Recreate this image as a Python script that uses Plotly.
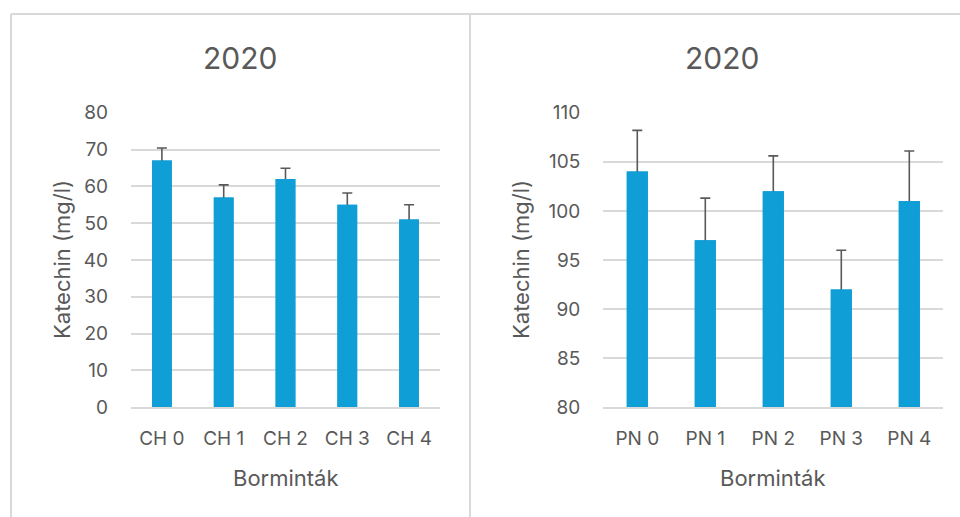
import plotly.graph_objects as go

# ---- data ----
ch_labels = ["CH 0", "CH 1", "CH 2", "CH 3", "CH 4"]
ch_values = [67, 57, 62, 55, 51]
ch_errors = [3.4, 3.4, 2.9, 3.2, 4.0]

pn_labels = ["PN 0", "PN 1", "PN 2", "PN 3", "PN 4"]
pn_values = [104, 97, 102, 92, 101]
pn_errors = [4.2, 4.3, 3.6, 4.0, 5.1]

title_left = "2020"
title_right = "2020"
y_title = "Katechin (mg/l)"
x_title = "Borminták"

W, H = 960, 517
BAR = "#0F9ED5"
TXT = "#595959"
GRID = "#D9D9D9"
FONT = "Inter, 'Noto Sans', sans-serif"

def px(x):
    return x / W

def py(y):
    return 1 - y / H

fig = go.Figure()
for labels, values, errors, bw, xa, ya in [
    (ch_labels, ch_values, ch_errors, 0.32, "x", "y"),
    (pn_labels, pn_values, pn_errors, 0.31, "x2", "y2"),
]:
    # bars with symmetric error bars (lower half hidden by the bar drawn on top)
    fig.add_trace(go.Bar(
        x=labels, y=values, marker_color=BAR, marker_line_width=0, width=bw,
        error_y=dict(type="data", array=errors, symmetric=True,
                     color=TXT, thickness=1.6, width=5),
        xaxis=xa, yaxis=ya, showlegend=False, hoverinfo="x+y"))
    fig.add_trace(go.Bar(
        x=labels, y=values, marker_color=BAR, marker_line_width=0, width=bw,
        xaxis=xa, yaxis=ya, showlegend=False, hoverinfo="skip"))

axis_common = dict(tickfont=dict(family=FONT, size=19, color=TXT), automargin=False)
fig.update_layout(
    width=W, height=H, margin=dict(l=0, r=0, t=0, b=0, pad=0, autoexpand=False),
    paper_bgcolor="white", plot_bgcolor="white", barmode="overlay",
    font=dict(family=FONT, color=TXT),
    xaxis=dict(domain=[px(131), px(440)], anchor="y", showgrid=False,
               showline=True, linecolor=GRID, linewidth=1.5, ticks="",
               ticklabelstandoff=13, **axis_common),
    yaxis=dict(domain=[py(407.3), py(112.7)], anchor="x", range=[0, 80],
               dtick=10, showgrid=True, gridcolor=GRID, gridwidth=1.5,
               zeroline=False, showline=False, ticks="", ticklabelstandoff=22,
               **axis_common),
    xaxis2=dict(domain=[px(603.3), px(943.3)], anchor="y2", showgrid=False,
                showline=True, linecolor=GRID, linewidth=1.5, ticks="",
                ticklabelstandoff=13, **axis_common),
    yaxis2=dict(domain=[py(407.3), py(112.7)], anchor="x2", range=[80, 110],
                dtick=5, showgrid=True, gridcolor=GRID, gridwidth=1.5,
                zeroline=False, showline=False, ticks="", ticklabelstandoff=22,
                **axis_common),
)

# panel borders
border = dict(color=GRID, width=2)
fig.add_shape(type="line", xref="paper", yref="paper",
              x0=px(11), x1=1.02, y0=py(14), y1=py(14), line=border)
fig.add_shape(type="line", xref="paper", yref="paper",
              x0=px(11), x1=px(11), y0=py(14), y1=-0.05, line=border)
fig.add_shape(type="line", xref="paper", yref="paper",
              x0=px(470), x1=px(470), y0=py(14), y1=-0.05, line=border)

anns = [
    dict(text=title_left, x=px(240), y=py(58), size=30, angle=0),
    dict(text=title_right, x=px(722), y=py(58), size=30, angle=0),
    dict(text=y_title, x=px(62), y=py(260), size=22, angle=-90),
    dict(text=y_title, x=px(521), y=py(260), size=22, angle=-90),
    dict(text=x_title, x=px(286), y=py(478), size=22, angle=0),
    dict(text=x_title, x=px(773), y=py(478), size=22, angle=0),
]
for a in anns:
    fig.add_annotation(text=a["text"], x=a["x"], y=a["y"], xref="paper", yref="paper",
                       showarrow=False, textangle=a["angle"],
                       xanchor="center", yanchor="middle",
                       font=dict(family=FONT, size=a["size"], color=TXT))

fig.write_html("out.html", config={"displayModeBar": False},
               post_script="document.body.style.margin='0';document.body.style.overflow='hidden';")
